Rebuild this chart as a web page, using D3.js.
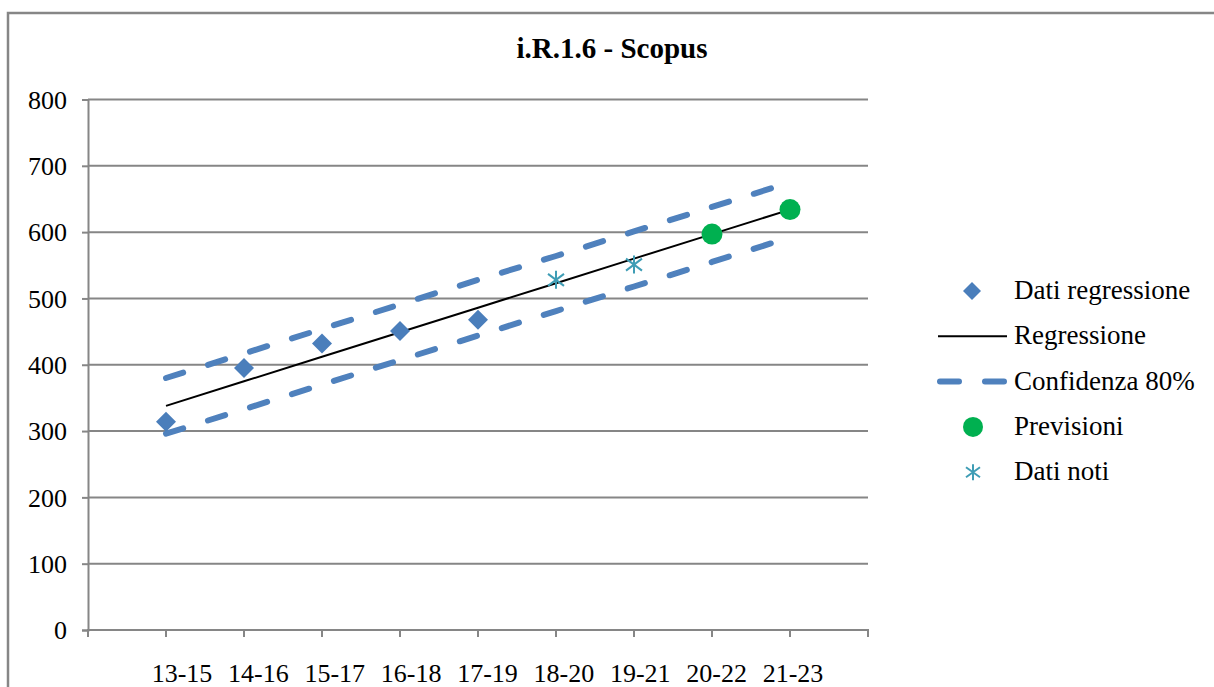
<!DOCTYPE html>
<html>
<head>
<meta charset="utf-8">
<script src="https://cdn.jsdelivr.net/npm/d3@7"></script>
<style>
  body { margin: 0; background: #fff; }
  text { font-family: "Liberation Serif", "Times New Roman", serif; fill: #000; }
</style>
</head>
<body>
<script>
var categories = ["13-15", "14-16", "15-17", "16-18", "17-19", "18-20", "19-21", "20-22", "21-23"];
var yTicks = [0, 100, 200, 300, 400, 500, 600, 700, 800];

// series, one value per category (null = no point)
var datiRegressione = [314, 395, 432, 451, 468, null, null, null, null];
var regressione = [338, 375, 412, 449, 486, 523, 560, 597, 634];
var confSup = [380, 417, 454, 491, 528, 564, 601, 638, 675];
var confInf = [296, 333, 370, 407, 444, 481, 518, 555, 592];
var previsioni = [null, null, null, null, null, null, null, 597, 634];
var datiNoti = [null, null, null, null, null, 528, 551, null, null];

var legendNames = ["Dati regressione", "Regressione", "Confidenza 80%", "Previsioni", "Dati noti"];

var blue = "#4A7EBB", dashBlue = "#4F81BD", green = "#00B050", teal = "#3F9DB5", grey = "#868686";

var svg = d3.select("body").append("svg").attr("width", 1214).attr("height", 687);

// outer frame
svg.append("rect")
      .attr("x", 8).attr("y", 13)
      .attr("width", 1300).attr("height", 800)
      .attr("fill", "none")
      .attr("stroke", grey)
      .attr("stroke-width", 2.5);

var x = d3.scalePoint().domain(categories).range([88, 868]).padding(1);
var xLab = d3.scalePoint().domain(categories).range([182, 793]);
var y = d3.scaleLinear().domain([0, 800]).range([630, 99.5]);

// gridlines
svg.selectAll("line.grid")
      .data(yTicks.slice(1))
      .enter().append("line")
      .attr("class", "grid")
      .attr("x1", 88).attr("x2", 868)
      .attr("y1", function(d){ return y(d); })
      .attr("y2", function(d){ return y(d); })
      .attr("stroke", grey).attr("stroke-width", 2);

// y axis
var yAxis = svg.append("g")
      .attr("transform", "translate(88,0)")
      .call(d3.axisLeft(y).tickValues(yTicks).tickSize(6).tickPadding(15));
yAxis.select(".domain").attr("stroke", grey).attr("stroke-width", 2);
yAxis.selectAll(".tick line").attr("stroke", grey).attr("stroke-width", 2);
yAxis.selectAll(".tick text")
      .attr("font-size", 26)
      .attr("font-family", "Liberation Serif, Times New Roman, serif")
      .attr("fill", "#000")
      .attr("dy", "0.34em");

// x axis: ticks at each category and one at the right end
var xAxisG = svg.append("g");
xAxisG.append("line")
      .attr("x1", 87).attr("x2", 869)
      .attr("y1", y(0)).attr("y2", y(0))
      .attr("stroke", grey).attr("stroke-width", 2);
var tickXs = categories.map(function(c){ return x(c); });
tickXs.push(x(categories[categories.length - 1]) + x.step());
tickXs.unshift(88);
xAxisG.selectAll("line.xt")
      .data(tickXs)
      .enter().append("line")
      .attr("class", "xt")
      .attr("x1", function(d){ return d; })
      .attr("x2", function(d){ return d; })
      .attr("y1", y(0)).attr("y2", y(0) + 7)
      .attr("stroke", grey).attr("stroke-width", 2);
xAxisG.selectAll("text")
      .data(categories)
      .enter().append("text")
      .text(function(d){ return d; })
      .attr("x", function(d){ return xLab(d); })
      .attr("y", 682)
      .attr("text-anchor", "middle")
      .attr("font-size", 26);

// title
svg.append("text")
      .text("i.R.1.6 - Scopus")
      .attr("x", 612).attr("y", 58)
      .attr("text-anchor", "middle")
      .attr("font-size", 29)
      .attr("font-weight", "bold");

function lineFor(arr) {
  return d3.line()
      .defined(function(d){ return d != null; })
      .x(function(d, i){ return x(categories[i]); })
      .y(function(d){ return y(d); })(arr);
}

// confidence band lines
[confSup, confInf].forEach(function(arr){
  svg.append("path")
      .attr("d", lineFor(arr))
      .attr("fill", "none")
      .attr("stroke", dashBlue)
      .attr("stroke-width", 6)
      .attr("stroke-linecap", "round")
      .attr("stroke-dasharray", "18,26");
});

// regression line
svg.append("path")
      .attr("d", lineFor(regressione))
      .attr("fill", "none")
      .attr("stroke", "#000")
      .attr("stroke-width", 2);

var diamond = "M0,-10L10,0L0,10L-10,0Z";
var star = "M0,-9V9M-8,-6L8,6M-8,6L8,-6";

function pts(arr) {
  return arr.map(function(v, i){ return {c: categories[i], v: v}; })
            .filter(function(d){ return d.v != null; });
}

svg.selectAll("path.diamond")
      .data(pts(datiRegressione))
      .enter().append("path")
      .attr("class", "diamond")
      .attr("d", diamond)
      .attr("transform", function(d){ return "translate(" + x(d.c) + "," + y(d.v) + ")"; })
      .attr("fill", blue);

svg.selectAll("path.star")
      .data(pts(datiNoti))
      .enter().append("path")
      .attr("class", "star")
      .attr("d", star)
      .attr("transform", function(d){ return "translate(" + x(d.c) + "," + y(d.v) + ")"; })
      .attr("fill", "none")
      .attr("stroke", teal)
      .attr("stroke-width", 2);

svg.selectAll("circle.prev")
      .data(pts(previsioni))
      .enter().append("circle")
      .attr("class", "prev")
      .attr("cx", function(d){ return x(d.c); })
      .attr("cy", function(d){ return y(d.v); })
      .attr("r", 10.5)
      .attr("fill", green);

// legend
var legend = svg.append("g");
var rowY = function(i){ return 291 + i * 45.3; };

legend.selectAll("text")
      .data(legendNames)
      .enter().append("text")
      .text(function(d){ return d; })
      .attr("x", 1014)
      .attr("y", function(d, i){ return rowY(i) + 8; })
      .attr("font-size", 27);

legend.append("path")
      .attr("d", "M0,-9L9,0L0,9L-9,0Z")
      .attr("transform", "translate(972," + rowY(0) + ")")
      .attr("fill", blue);
legend.append("line")
      .attr("x1", 938).attr("x2", 1007)
      .attr("y1", rowY(1)).attr("y2", rowY(1))
      .attr("stroke", "#000").attr("stroke-width", 2);
legend.append("line")
      .attr("x1", 940).attr("x2", 1004)
      .attr("y1", rowY(2)).attr("y2", rowY(2))
      .attr("stroke", dashBlue).attr("stroke-width", 6)
      .attr("stroke-linecap", "round")
      .attr("stroke-dasharray", "19,26");
legend.append("circle")
      .attr("cx", 973).attr("cy", rowY(3))
      .attr("r", 10)
      .attr("fill", green);
legend.append("path")
      .attr("d", "M0,-8V8M-7,-5L7,5M-7,5L7,-5")
      .attr("transform", "translate(973," + rowY(4) + ")")
      .attr("fill", "none")
      .attr("stroke", teal)
      .attr("stroke-width", 2);
</script>
</body>
</html>
